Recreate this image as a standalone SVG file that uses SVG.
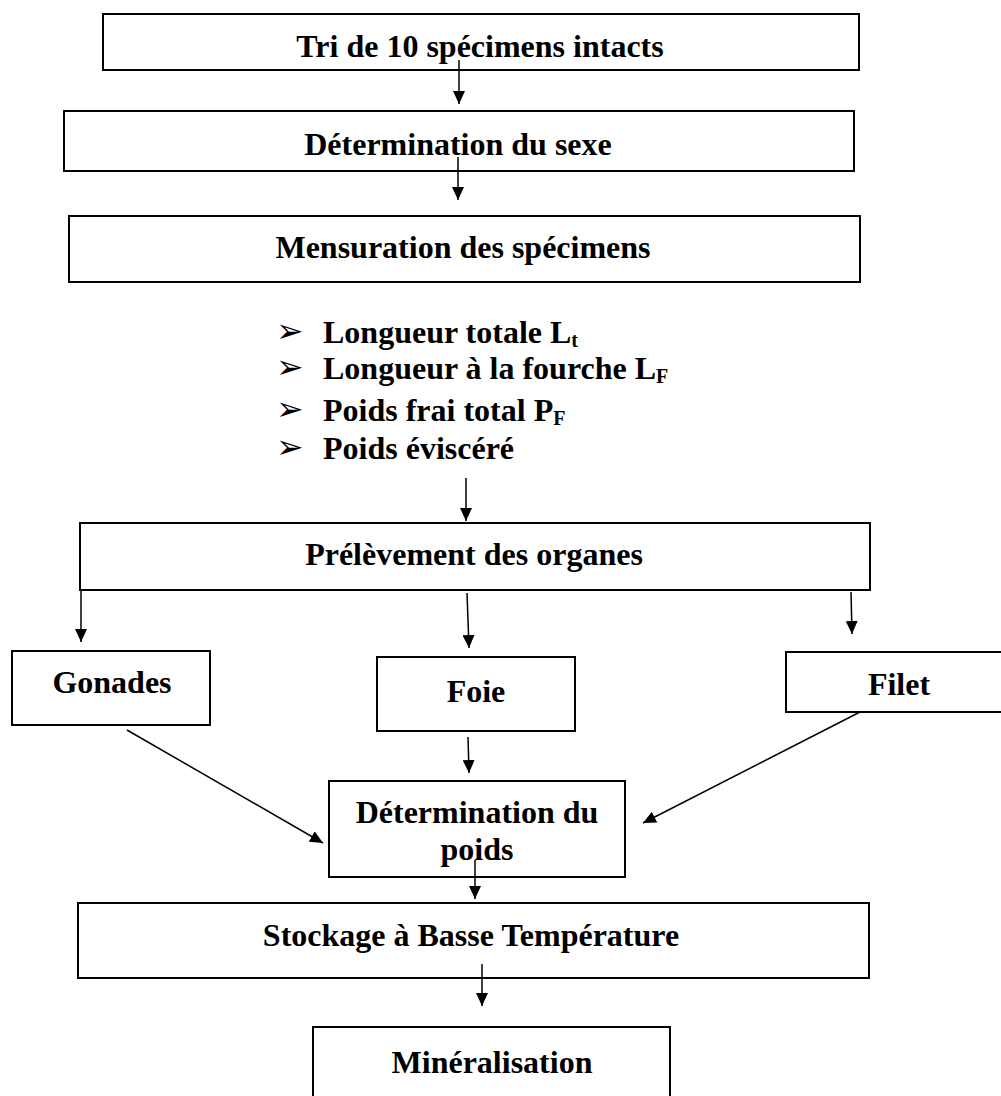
<svg xmlns="http://www.w3.org/2000/svg" width="1001" height="1096" viewBox="0 0 1001 1096">
<style>
.box{fill:#fff;stroke:#000;stroke-width:2}
.t{font-family:"Liberation Serif","Times New Roman",serif;font-weight:bold;font-size:32px;fill:#000}
.c{text-anchor:middle}
.b{font-family:"DejaVu Sans",sans-serif;font-size:33px;fill:#000}
.s{font-size:20px}
.ln{stroke:#000;stroke-width:1.5;fill:none;marker-end:url(#ah)}
</style>
<defs>
<marker id="ah" viewBox="0 0 13 12" refX="13" refY="6" markerWidth="13" markerHeight="12" markerUnits="userSpaceOnUse" orient="auto">
<path d="M0,0 L13,6 L0,12 z" fill="#000"/>
</marker>
</defs>
<rect width="1001" height="1096" fill="#fff"/>
<g id="n1"><rect class="box" x="103" y="14" width="756" height="56"/><text class="t c" x="480" y="57">Tri de 10 spécimens intacts</text></g>
<g id="n2"><rect class="box" x="64" y="111" width="790" height="60"/><text class="t c" x="458" y="155">Détermination du sexe</text></g>
<g id="n3"><rect class="box" x="69" y="216" width="791" height="66"/><text class="t c" x="463" y="258">Mensuration des spécimens</text></g>
<g id="list">
<text class="b" x="276" y="342">➢</text><text class="t" x="323" y="343">Longueur totale L<tspan class="s" dy="4">t</tspan></text>
<text class="b" x="276" y="378">➢</text><text class="t" x="323" y="379">Longueur à la fourche L<tspan class="s" dy="4">F</tspan></text>
<text class="b" x="276" y="420">➢</text><text class="t" x="323" y="421">Poids frai total P<tspan class="s" dy="4">F</tspan></text>
<text class="b" x="276" y="458">➢</text><text class="t" x="323" y="459">Poids éviscéré</text>
</g>
<g id="n4"><rect class="box" x="80" y="523" width="790" height="67"/><text class="t c" x="474" y="565">Prélèvement des organes</text></g>
<g id="gonades"><rect class="box" x="12" y="651" width="198" height="74"/><text class="t c" x="112" y="693">Gonades</text></g>
<g id="foie"><rect class="box" x="377" y="657" width="198" height="74"/><text class="t c" x="476" y="702">Foie</text></g>
<g id="filet"><rect class="box" x="786" y="652" width="222" height="60"/><text class="t c" x="899" y="695">Filet</text></g>
<g id="poids"><rect class="box" x="329" y="781" width="296" height="96"/><text class="t c" x="477" y="823">Détermination du</text><text class="t c" x="477" y="860">poids</text></g>
<g id="stockage"><rect class="box" x="78" y="903" width="791" height="75"/><text class="t c" x="471" y="946">Stockage à Basse Température</text></g>
<g id="mineral"><rect class="box" x="313" y="1027" width="357" height="80"/><text class="t c" x="492" y="1073">Minéralisation</text></g>
<g id="connectors">
<line class="ln" x1="459" y1="60" x2="459" y2="104"/>
<line class="ln" x1="458" y1="157" x2="458" y2="200"/>
<line class="ln" x1="466" y1="478" x2="466" y2="521"/>
<line class="ln" x1="81" y1="591" x2="81" y2="642"/>
<line class="ln" x1="467" y1="593" x2="469" y2="648"/>
<line class="ln" x1="851" y1="592" x2="852" y2="634"/>
<line class="ln" x1="468" y1="737" x2="469" y2="773"/>
<line class="ln" x1="127" y1="730" x2="323" y2="843"/>
<line class="ln" x1="860" y1="712" x2="643" y2="823"/>
<line class="ln" x1="475" y1="860" x2="475" y2="899"/>
<line class="ln" x1="482" y1="964" x2="482" y2="1006"/>
</g>
</svg>
